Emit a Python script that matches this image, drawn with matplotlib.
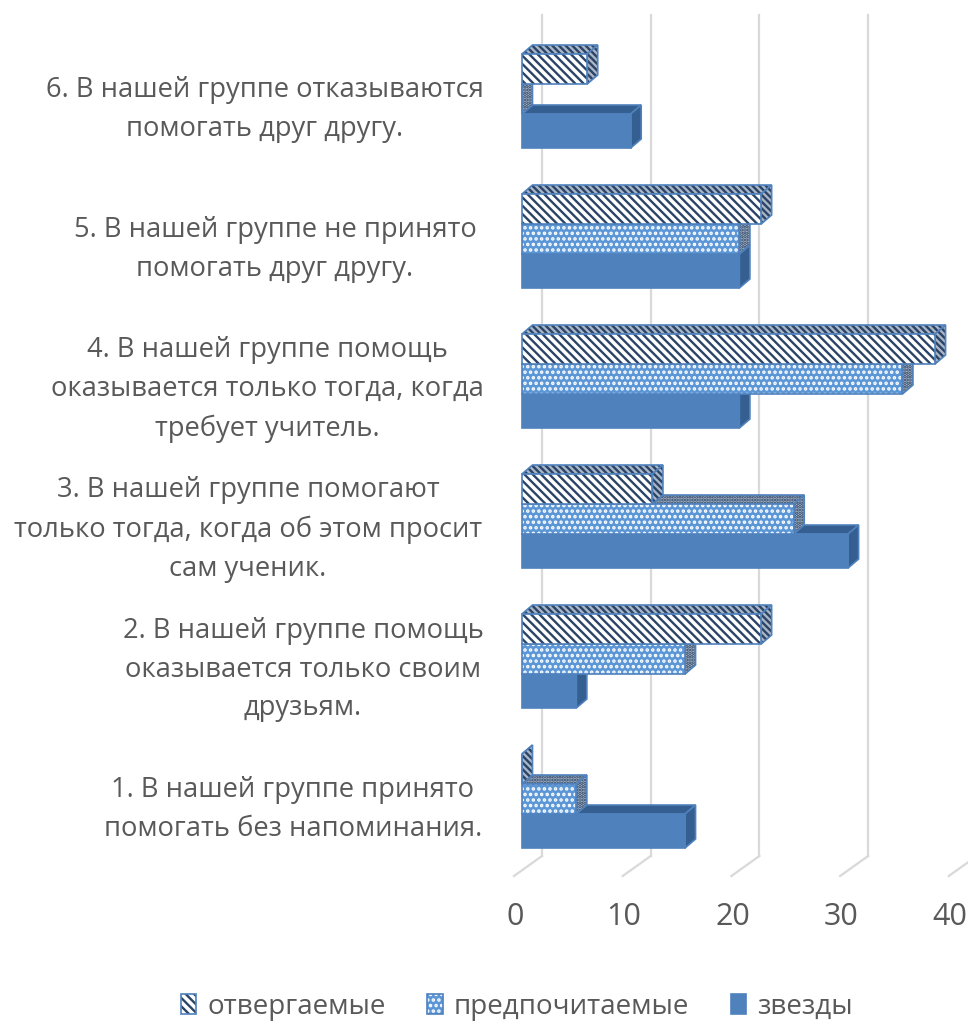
import matplotlib
matplotlib.use("Agg")
import matplotlib.pyplot as plt
from matplotlib.legend_handler import HandlerTuple
from matplotlib.patches import Patch, Polygon, Rectangle

plt.rcParams['font.family'] = ['Open Sans', 'DejaVu Sans']
plt.rcParams['hatch.linewidth'] = 1.7

# данные
categories = [
    "1. В нашей группе принято\nпомогать без напоминания.",
    "2. В нашей группе помощь\nоказывается только своим\nдрузьям.",
    "3. В нашей группе помогают\nтолько тогда, когда об этом просит\nсам ученик.",
    "4. В нашей группе помощь\nоказывается только тогда, когда\nтребует учитель.",
    "5. В нашей группе не принято\nпомогать друг другу.",
    "6. В нашей группе отказываются\nпомогать друг другу.",
]
zvezdy = [15, 5, 30, 20, 20, 10]
predpochitaemye = [5, 15, 25, 35, 20, 0]
otvergaemye = [0, 22, 12, 38, 22, 6]
series_names = ["звезды", "предпочитаемые", "отвергаемые"]
x_ticks = [0, 10, 20, 30, 40]
label_centers = [293, 303, 248, 267, 275, 265]

# геометрия в пикселях
W, H = 968, 1021
PX_X0, PX_PER_UNIT = 522, 10.87
PX_Y0, PX_GROUP = 848, 140
DX, DY = 10.5 / PX_PER_UNIT, 9 / PX_GROUP
BAR_BOTTOMS = [0 / PX_GROUP, 34 / PX_GROUP, 64 / PX_GROUP]
BAR_HEIGHTS = [34 / PX_GROUP, 30 / PX_GROUP, 30 / PX_GROUP]

BLUE = "#4f81bd"
DARK = "#365f91"
NAVY = "#2a4468"
TEXT = "#595959"
GRID = "#d9d9d9"

# (заливка, штриховка, цвет штриховки)
front_styles = [(BLUE, None, None), ("#5b96d6", "...", "white"), ("white", "\\\\\\\\", NAVY)]
depth_styles = [(DARK, None, None), ("#aab6c6", ".....", NAVY), ("#aab6c6", "\\\\\\\\\\", NAVY)]


def layered(make_patch, style):
    # hatchcolor нет в Patch, поэтому три слоя: заливка, штриховка, контур
    face, hatch, hatch_color = style
    layers = [make_patch(facecolor=face, edgecolor="none")]
    if hatch:
        layers.append(make_patch(facecolor="none", edgecolor=hatch_color, hatch=hatch, lw=0))
    layers.append(make_patch(facecolor="none", edgecolor=BLUE, lw=1.2))
    return layers


fig = plt.figure(figsize=(W / 100, H / 100), dpi=100)
ax = fig.add_axes([0, 0, 1, 1])
ax.set_xlim(-PX_X0 / PX_PER_UNIT, (W - PX_X0) / PX_PER_UNIT)
ax.set_ylim(-(H - PX_Y0) / PX_GROUP, PX_Y0 / PX_GROUP)
ax.axis("off")


def draw_bar(y, height, value, k, z):
    top = y + height
    top_pts = [(0, top), (DX, top + DY), (value + DX, top + DY), (value, top)]
    side_pts = [(value, y), (value + DX, y + DY), (value + DX, top + DY), (value, top)]
    for pts in (top_pts, side_pts):
        for p in layered(lambda **kw: Polygon(pts, **kw), depth_styles[k]):
            p.set_zorder(z)
            ax.add_patch(p)
    for p in layered(lambda **kw: Rectangle((0, y), value, height, **kw), front_styles[k]):
        p.set_zorder(z + 0.1)
        ax.add_patch(p)


# сетка: задняя стенка и диагональ по полу
grid_dx = 20 / PX_PER_UNIT
floor_y = -8 / PX_GROUP
for t in x_ticks:
    ax.plot([t + grid_dx, t + grid_dx], [floor_y, (PX_Y0 - 15) / PX_GROUP], color=GRID, lw=1.6, zorder=1)
    ax.plot([t + grid_dx, t - 8 / PX_PER_UNIT], [floor_y, -28 / PX_GROUP], color=GRID, lw=1.6, zorder=1)
    ax.text(t - 7 / PX_PER_UNIT, -(917 - PX_Y0) / PX_GROUP, str(t), ha="center", va="center",
            fontsize=22, color=TEXT)

# столбцы снизу вверх
all_series = [zvezdy, predpochitaemye, otvergaemye]
for i in range(len(categories)):
    for k, values in enumerate(all_series):
        draw_bar(i + BAR_BOTTOMS[k], BAR_HEIGHTS[k], values[i], k, 2 + i + k * 0.2)
    ax.text((label_centers[i] - PX_X0) / PX_PER_UNIT, i + 38.5 / PX_GROUP, categories[i],
            ha="center", va="center", fontsize=19.7, color=TEXT, linespacing=1.52)

handles = [tuple(layered(lambda **kw: Patch(**kw), front_styles[k])) for k in (2, 1, 0)]
fig.legend(handles, [series_names[2], series_names[1], series_names[0]], ncol=3, frameon=False,
           loc="center", bbox_to_anchor=(517 / W, 1 - 1007 / H), fontsize=20, labelcolor=TEXT,
           handlelength=0.55, handleheight=0.75, handletextpad=0.4, columnspacing=1.5,
           borderpad=0, handler_map={tuple: HandlerTuple(ndivide=1, pad=0)})

fig.savefig("out.png", dpi=100)
